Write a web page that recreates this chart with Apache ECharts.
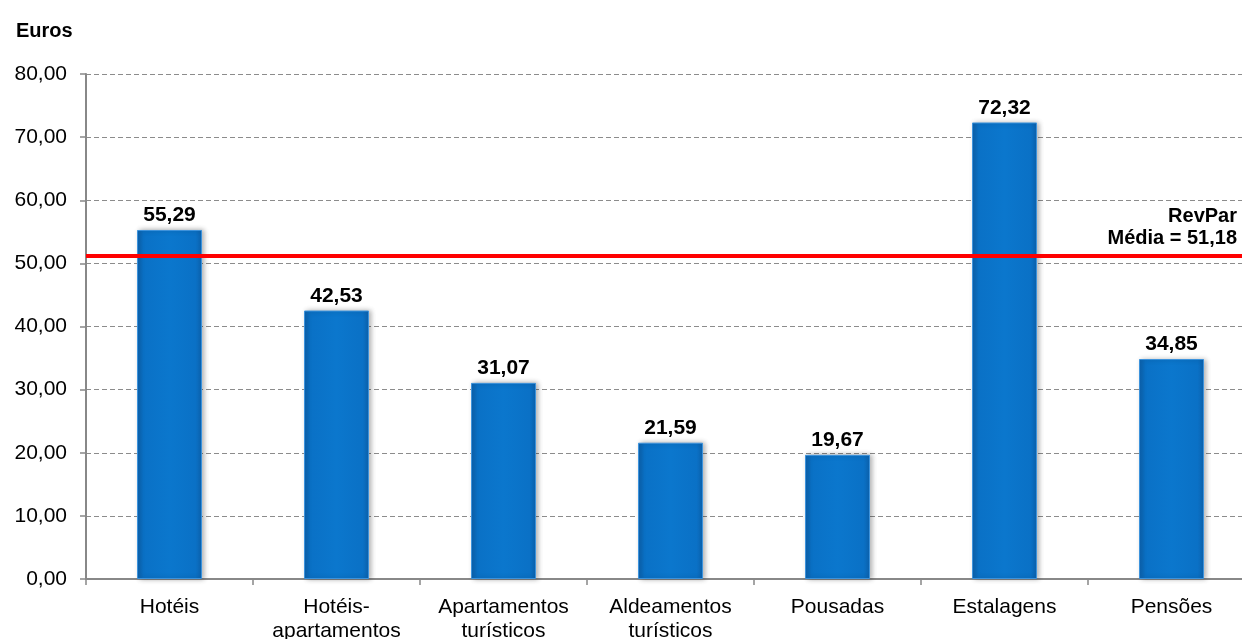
<!DOCTYPE html>
<html>
<head>
<meta charset="utf-8">
<style>
  html, body { margin: 0; padding: 0; background: #fff; overflow: hidden; }
  #chart { width: 1242px; height: 639px; }
</style>
<script src="https://cdn.jsdelivr.net/npm/echarts@6/dist/echarts.min.js"></script>
</head>
<body>
<div id="chart"></div>
<script>
// RevPar por tipologia de estabelecimento (euros)
const categories = [
  'Hotéis',
  'Hotéis-\napartamentos',
  'Apartamentos\nturísticos',
  'Aldeamentos\nturísticos',
  'Pousadas',
  'Estalagens',
  'Pensões'
];
const revpar = [55.29, 42.53, 31.07, 21.59, 19.67, 72.32, 34.85];
const revparMedia = 51.18;
const yTicks = { min: 0, max: 80, interval: 10 };

const fmt = v => v.toFixed(2).replace('.', ',');
const FONT = '"Liberation Sans", Arial, sans-serif';

const barFill = new echarts.graphic.LinearGradient(0, 0, 1, 0, [
  { offset: 0, color: '#0c62ae' },
  { offset: 0.1, color: '#0a71c6' },
  { offset: 0.5, color: '#0b77cd' },
  { offset: 0.9, color: '#0a71c6' },
  { offset: 1, color: '#0c62ae' }
]);

const chart = echarts.init(document.getElementById('chart'));
chart.setOption({
  backgroundColor: '#fff',
  animation: false,
  title: {
    text: 'Euros',
    left: 11, top: 16,
    textStyle: { fontFamily: FONT, fontSize: 20, fontWeight: 'bold', color: '#000' }
  },
  // the plot runs a little past the right edge of the page
  grid: {
    left: 86, width: 1169, top: 74, bottom: 60,
    containLabel: false, outerBoundsMode: 'none'
  },
  xAxis: {
    type: 'category',
    data: categories,
    axisLine: { lineStyle: { color: '#888', width: 2 } },
    axisTick: { show: true, length: 6, lineStyle: { color: '#888', width: 1.5 } },
    axisLabel: {
      fontFamily: FONT, fontSize: 21, color: '#000',
      margin: 16, lineHeight: 24, interval: 0
    }
  },
  yAxis: {
    type: 'value',
    min: yTicks.min, max: yTicks.max, interval: yTicks.interval,
    axisLine: { show: true, lineStyle: { color: '#888', width: 2 } },
    axisTick: { show: true, length: 6, lineStyle: { color: '#888', width: 1.5 } },
    axisLabel: {
      fontFamily: FONT, fontSize: 21, color: '#000', margin: 19,
      formatter: v => fmt(v)
    },
    splitLine: { lineStyle: { color: '#8c8c8c', type: [5, 3], width: 1.2 } }
  },
  series: [{
    type: 'bar',
    data: revpar,
    barWidth: 65,
    itemStyle: {
      color: barFill,
      borderColor: '#3d93dc',
      borderWidth: 1,
      shadowColor: 'rgba(0,0,0,0.3)',
      shadowBlur: 5,
      shadowOffsetX: 2,
      shadowOffsetY: 0
    },
    label: {
      show: true,
      position: 'top',
      distance: 4,
      formatter: p => fmt(p.value),
      fontFamily: FONT, fontSize: 21, fontWeight: 'bold', color: '#000'
    },
    markLine: {
      silent: true,
      symbol: ['none', 'none'],
      lineStyle: { color: '#ff0000', width: 4, type: 'solid' },
      data: [{ yAxis: revparMedia }],
      label: {
        show: true,
        position: 'insideEndTop',
        distance: [18, 6],
        formatter: () => 'RevPar\nMédia = ' + fmt(revparMedia),
        fontFamily: FONT, fontSize: 20, fontWeight: 'bold', color: '#000',
        lineHeight: 22
      }
    },
    z: 2
  }]
});
</script>
</body>
</html>
